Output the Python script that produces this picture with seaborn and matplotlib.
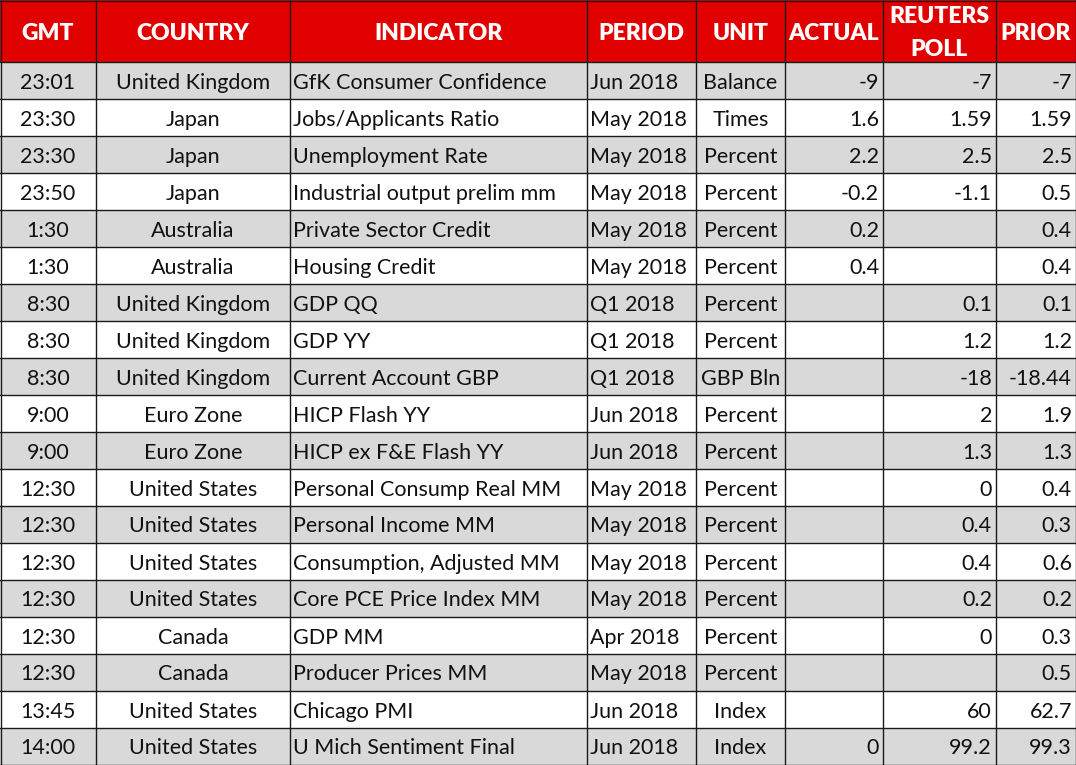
import matplotlib
matplotlib.use("Agg")
import matplotlib.pyplot as plt
import seaborn as sns

sns.set_theme(style="white")
plt.rcParams['font.family'] = ['Lato', 'DejaVu Sans']

headers = ["GMT", "COUNTRY", "INDICATOR", "PERIOD", "UNIT", "ACTUAL", "REUTERS\nPOLL", "PRIOR"]
gmt = ["23:01", "23:30", "23:30", "23:50", "1:30", "1:30", "8:30", "8:30", "8:30", "9:00",
       "9:00", "12:30", "12:30", "12:30", "12:30", "12:30", "12:30", "13:45", "14:00"]
country = ["United Kingdom", "Japan", "Japan", "Japan", "Australia", "Australia",
           "United Kingdom", "United Kingdom", "United Kingdom", "Euro Zone", "Euro Zone",
           "United States", "United States", "United States", "United States", "Canada",
           "Canada", "United States", "United States"]
indicator = ["GfK Consumer Confidence", "Jobs/Applicants Ratio", "Unemployment Rate",
             "Industrial output prelim mm", "Private Sector Credit", "Housing Credit",
             "GDP QQ", "GDP YY", "Current Account GBP", "HICP Flash YY", "HICP ex F&E Flash YY",
             "Personal Consump Real MM", "Personal Income MM", "Consumption, Adjusted MM",
             "Core PCE Price Index MM", "GDP MM", "Producer Prices MM", "Chicago PMI",
             "U Mich Sentiment Final"]
period = ["Jun 2018", "May 2018", "May 2018", "May 2018", "May 2018", "May 2018", "Q1 2018",
          "Q1 2018", "Q1 2018", "Jun 2018", "Jun 2018", "May 2018", "May 2018", "May 2018",
          "May 2018", "Apr 2018", "May 2018", "Jun 2018", "Jun 2018"]
unit = ["Balance", "Times", "Percent", "Percent", "Percent", "Percent", "Percent", "Percent",
        "GBP Bln", "Percent", "Percent", "Percent", "Percent", "Percent", "Percent", "Percent",
        "Percent", "Index", "Index"]
actual = ["-9", "1.6", "2.2", "-0.2", "0.2", "0.4", "", "", "", "", "", "", "", "", "", "", "", "", "0"]
poll = ["-7", "1.59", "2.5", "-1.1", "", "", "0.1", "1.2", "-18", "2", "1.3", "0", "0.4", "0.4",
        "0.2", "0", "", "60", "99.2"]
prior = ["-7", "1.59", "2.5", "0.5", "0.4", "0.4", "0.1", "1.2", "-18.44", "1.9", "1.3", "0.4",
         "0.3", "0.6", "0.2", "0.3", "0.5", "62.7", "99.3"]

columns = [gmt, country, indicator, period, unit, actual, poll, prior]
col_edges = [0, 96, 290, 587, 696, 785, 883, 996, 1076]
aligns = ["center", "center", "left", "left", "center", "right", "right", "right"]
header_h = 62
row_h = 37
W, H = 1076, 765

fig = plt.figure(figsize=(W / 100, H / 100), dpi=100)
ax = fig.add_axes([0, 0, 1, 1])
ax.set_xlim(0, W)
ax.set_ylim(H, 0)
ax.axis("off")

n = len(gmt)
# header background
ax.barh([header_h / 2], [W], height=header_h, left=0, color="#E00000", edgecolor="none")
# row backgrounds
for i in range(n):
    y0 = header_h + i * row_h
    c = "#D9D9D9" if i % 2 == 0 else "#FFFFFF"
    ax.barh([y0 + row_h / 2], [W], height=row_h, left=0, color=c, edgecolor="none")

# grid lines
for x in col_edges:
    xx = min(max(x, 0.5), W - 0.5)
    ax.plot([xx, xx], [0, H], color="#1a1a1a", lw=1.0, solid_capstyle="butt")
ax.plot([0, W], [0.5, 0.5], color="#1a1a1a", lw=1.0)
for i in range(n + 1):
    y = header_h + i * row_h
    y = min(y, H - 0.5)
    ax.plot([0, W], [y, y], color="#1a1a1a", lw=1.0)

# header text
for j, h in enumerate(headers):
    xc = (col_edges[j] + col_edges[j + 1]) / 2
    ax.text(xc, header_h / 2 + 2, h, ha="center", va="center", color="white",
            fontsize=16.5, fontweight="heavy", linespacing=1.75)

# cell text
for j, col in enumerate(columns):
    x0, x1 = col_edges[j], col_edges[j + 1]
    for i, v in enumerate(col):
        yc = header_h + i * row_h + row_h / 2 + 2
        if aligns[j] == "center":
            x = (x0 + x1) / 2
        elif aligns[j] == "left":
            x = x0 + 3
        else:
            x = x1 - 4
        ax.text(x, yc, v, ha=aligns[j], va="center", color="#111111", fontsize=15.5)

fig.savefig("out.png", dpi=100)
